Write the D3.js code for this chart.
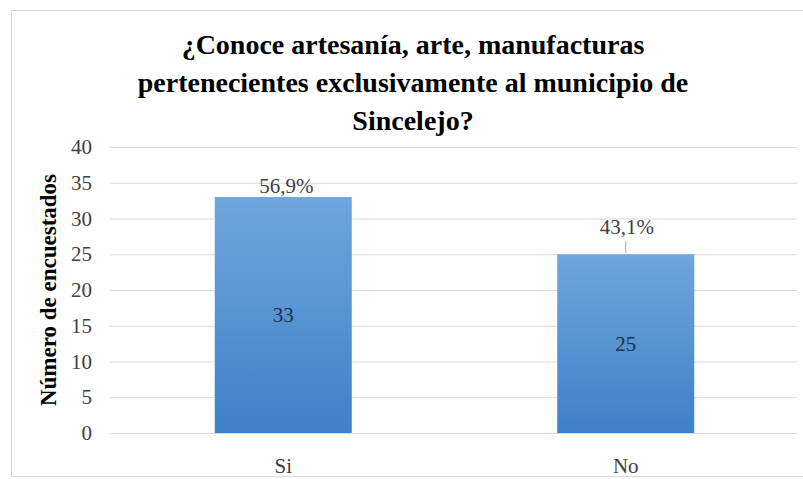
<!DOCTYPE html>
<html>
<head>
<meta charset="utf-8">
<script src="https://cdn.jsdelivr.net/npm/d3@7"></script>
<style>
  html, body { margin: 0; padding: 0; background: #fff; }
  svg { display: block; }
</style>
</head>
<body>
<svg id="chart" width="803" height="479"></svg>
<script>
// Survey answers and respondent counts
const categories = ["Si", "No"];
const counts = [33, 25];
const percentLabels = ["56,9%", "43,1%"];
const yTicks = [0, 5, 10, 15, 20, 25, 30, 35, 40];
const titleLines = [
  "¿Conoce artesanía, arte, manufacturas",
  "pertenecientes exclusivamente al municipio de",
  "Sincelejo?"
];
const yTitle = "Número de encuestados";

const SERIF = "'Times New Roman', 'Liberation Serif', Tinos, serif";

const svg = d3.select("#chart");

// Chart frame
svg.append("rect")
  .attr("x", 11.5).attr("y", 10.5)
  .attr("width", 803).attr("height", 466)
  .attr("fill", "#fff")
  .attr("stroke", "#d9d9d9").attr("stroke-width", 1);

const plot = { left: 110, right: 797, top: 147, bottom: 433 };

const x = d3.scaleBand()
  .domain(categories)
  .range([112, plot.right])
  .paddingInner(0.6)
  .paddingOuter(0.3);

const y = d3.scaleLinear()
  .domain([0, 40])
  .range([plot.bottom, plot.top]);

// Bar fill gradient
const defs = svg.append("defs");
const grad = defs.append("linearGradient")
  .attr("id", "barFill")
  .attr("x1", 0).attr("y1", 0).attr("x2", 0).attr("y2", 1);
grad.append("stop").attr("offset", "0%").attr("stop-color", "#6ea6dd");
grad.append("stop").attr("offset", "100%").attr("stop-color", "#3e81c6");

// Gridlines and y tick labels
const yAxis = svg.append("g")
  .attr("transform", `translate(${plot.left},0)`)
  .call(d3.axisLeft(y)
    .tickValues(yTicks)
    .tickSize(-(plot.right - plot.left))
    .tickPadding(18)
    .tickFormat(d3.format("d")));
yAxis.attr("font-family", null).attr("font-size", null);
yAxis.select(".domain").remove();
yAxis.selectAll(".tick line").attr("stroke", "#d9d9d9").attr("stroke-width", 1.2);
yAxis.selectAll(".tick text")
  .attr("fill", "#404040")
  .style("font-size", "21px")
  .style("font-family", SERIF);

// Category axis
const xAxis = svg.append("g")
  .attr("transform", `translate(0,${plot.bottom})`)
  .call(d3.axisBottom(x).tickSize(0).tickPadding(25));
xAxis.attr("font-family", null).attr("font-size", null);
xAxis.select(".domain").remove();
xAxis.selectAll(".tick text")
  .attr("fill", "#404040")
  .style("font-size", "21px")
  .style("font-family", SERIF);

// Bars
const data = categories.map((c, i) => ({ cat: c, value: counts[i], pct: percentLabels[i] }));

svg.append("g").selectAll("rect")
  .data(data)
  .join("rect")
  .attr("x", d => x(d.cat))
  .attr("y", d => y(d.value))
  .attr("width", x.bandwidth())
  .attr("height", d => y(0) - y(d.value))
  .attr("fill", "url(#barFill)");

// Counts inside the bars
svg.append("g").selectAll("text")
  .data(data)
  .join("text")
  .attr("x", d => x(d.cat) + x.bandwidth() / 2)
  .attr("y", d => (y(d.value) + y(0)) / 2)
  .attr("dy", "0.35em")
  .attr("text-anchor", "middle")
  .attr("fill", "#1c2f4f")
  .style("font-family", SERIF)
  .style("font-size", "21px")
  .text(d => d.value);

// Percentage labels above the bars (second one sits on a short leader line)
const labelLift = [4, 20];
svg.append("g").selectAll("text")
  .data(data)
  .join("text")
  .attr("x", (d, i) => x(d.cat) + x.bandwidth() / 2 + (i === 0 ? 3 : 1))
  .attr("y", (d, i) => y(d.value) - labelLift[i])
  .attr("text-anchor", "middle")
  .attr("fill", "#404040")
  .style("font-family", SERIF)
  .style("font-size", "21px")
  .text(d => d.pct);

svg.append("line")
  .attr("x1", x("No") + x.bandwidth() / 2).attr("x2", x("No") + x.bandwidth() / 2)
  .attr("y1", y(counts[1]) - 13).attr("y2", y(counts[1]) - 1)
  .attr("stroke", "#a6a6a6").attr("stroke-width", 1);

// Y axis title
svg.append("text")
  .attr("transform", `translate(56,${(plot.top + plot.bottom) / 2}) rotate(-90)`)
  .attr("text-anchor", "middle")
  .attr("fill", "#000")
  .style("font-family", SERIF)
  .style("font-size", "23px")
  .style("font-weight", "bold")
  .text(yTitle);

// Title
svg.append("g").selectAll("text")
  .data(titleLines)
  .join("text")
  .attr("x", 413)
  .attr("y", (d, i) => 54 + i * 38)
  .attr("text-anchor", "middle")
  .attr("fill", "#000")
  .style("font-family", SERIF)
  .style("font-size", "28px")
  .style("font-weight", "bold")
  .text(d => d);
</script>
</body>
</html>
